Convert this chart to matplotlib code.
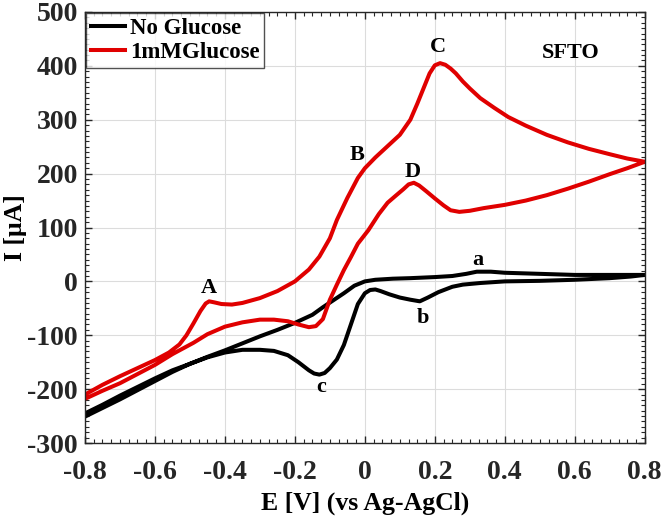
import matplotlib
matplotlib.use("Agg")
import matplotlib.pyplot as plt
from matplotlib.ticker import MultipleLocator

# No glucose, anodic sweep (-0.8 -> 0.8 V)
e_blank_fwd = [-0.80, -0.75, -0.70, -0.65, -0.60, -0.55, -0.50, -0.45, -0.40, -0.35,
               -0.30, -0.25, -0.20, -0.15, -0.12, -0.09, -0.06, -0.03, 0.00, 0.03,
               0.08, 0.13, 0.20, 0.25, 0.29, 0.32, 0.36, 0.40, 0.45, 0.50,
               0.60, 0.70, 0.76, 0.80]
i_blank_fwd = [-251, -235, -219, -202, -185, -168, -153, -140, -128, -115,
               -102, -90, -77, -62, -48, -35, -22, -8, 0, 3,
               5, 6, 8, 10, 14, 18, 18, 16, 15, 14,
               12, 12, 12, 12]

# No glucose, cathodic sweep (0.8 -> -0.8 V)
e_blank_rev = [0.80, 0.76, 0.70, 0.60, 0.50, 0.40, 0.33, 0.28, 0.25, 0.21,
               0.18, 0.157, 0.13, 0.10, 0.07, 0.045, 0.03, 0.015, 0.00, -0.02,
               -0.04, -0.06, -0.08, -0.10, -0.115, -0.13, -0.145, -0.16, -0.19, -0.22,
               -0.26, -0.30, -0.35, -0.40, -0.45, -0.50, -0.55, -0.60, -0.65, -0.70,
               -0.75, -0.80]
i_blank_rev = [12, 9, 6, 3, 1, 0, -3, -6, -10, -20,
               -30, -37, -34, -30, -24, -18, -15, -16, -22, -42,
               -80, -118, -145, -161, -170, -173, -171, -165, -150, -137,
               -129, -127, -127, -132, -141, -153, -165, -180, -196, -212,
               -229, -245]

# 1 mM glucose, anodic sweep
e_glu_fwd = [-0.80, -0.75, -0.70, -0.65, -0.60, -0.56, -0.53, -0.51, -0.49, -0.47,
             -0.455, -0.445, -0.43, -0.41, -0.38, -0.35, -0.30, -0.25, -0.20, -0.16,
             -0.13, -0.10, -0.08, -0.05, -0.02, 0.00, 0.03, 0.06, 0.10, 0.13,
             0.15, 0.17, 0.185, 0.20, 0.215, 0.23, 0.245, 0.26, 0.28, 0.30,
             0.33, 0.37, 0.41, 0.46, 0.52, 0.58, 0.64, 0.70, 0.75, 0.80]
i_glu_fwd = [-210, -192, -176, -161, -146, -132, -117, -100, -78, -55,
             -41, -37, -39, -42, -43, -40, -31, -18, 0, 22,
             46, 80, 114, 155, 192, 210, 230, 248, 272, 300,
             330, 362, 386, 401, 405, 402, 395, 386, 371, 358,
             340, 322, 305, 289, 272, 258, 246, 236, 228, 222]

# 1 mM glucose, cathodic sweep
e_glu_rev = [0.80, 0.75, 0.70, 0.64, 0.58, 0.52, 0.46, 0.40, 0.34, 0.30,
             0.27, 0.245, 0.225, 0.20, 0.176, 0.155, 0.14, 0.125, 0.11, 0.09,
             0.065, 0.04, 0.01, -0.02, -0.04, -0.06, -0.08, -0.10, -0.12, -0.14,
             -0.16, -0.19, -0.22, -0.26, -0.30, -0.35, -0.40, -0.45, -0.49, -0.55,
             -0.60, -0.65, -0.70, -0.75, -0.80]
i_glu_rev = [222, 210, 199, 185, 172, 160, 150, 142, 136, 131,
             129, 132, 141, 154, 167, 178, 183, 180, 171, 160,
             146, 125, 95, 70, 45, 21, -6, -34, -70, -83,
             -85, -80, -74, -71, -71, -76, -84, -98, -114, -135,
             -155, -172, -189, -203, -218]

# peak labels (text, E, I)
peak_names = ["A", "B", "C", "D", "a", "b", "c"]
peak_e = [-0.446, -0.023, 0.209, 0.137, 0.323, 0.166, -0.126]
peak_i = [-12, 235, 435, 203, 40, -68, -196]


def main():
    plt.rcParams["font.family"] = ["Liberation Serif", "DejaVu Serif"]
    plt.rcParams["font.weight"] = "bold"
    plt.rcParams["axes.unicode_minus"] = False

    fig = plt.figure(figsize=(6.64, 5.2), dpi=100)
    ax = fig.add_axes([0.128, 0.148, 0.843, 0.829])

    lw = 2.9
    ax.plot(e_blank_fwd + e_blank_rev, i_blank_fwd + i_blank_rev,
            color="black", lw=lw, label="No Glucose", solid_joinstyle="round")
    ax.plot(e_glu_fwd + e_glu_rev, i_glu_fwd + i_glu_rev,
            color="#e00000", lw=lw, label="1mMGlucose", solid_joinstyle="round")

    for name, e, i in zip(peak_names, peak_e, peak_i):
        ax.text(e, i, name, ha="center", va="center", fontsize=16,
                fontweight="bold")
    ax.text(0.589, 424, "SFTO", ha="center", va="center", fontsize=16,
            fontweight="bold")

    ax.set_xlim(-0.8, 0.8)
    ax.set_ylim(-300, 500)
    xt = [-0.8, -0.6, -0.4, -0.2, 0, 0.2, 0.4, 0.6, 0.8]
    ax.set_xticks(xt)
    ax.set_xticklabels(["0" if v == 0 else f"{v:g}" for v in xt])
    ax.xaxis.set_minor_locator(MultipleLocator(0.025))
    ax.yaxis.set_major_locator(MultipleLocator(100))
    ax.yaxis.set_minor_locator(MultipleLocator(10))

    ax.grid(True, which="major", color="#dcdcdc", lw=0.8)
    ax.set_axisbelow(True)
    ax.tick_params(which="both", direction="in", top=True, right=True,
                   labelsize=20, colors="#262626")
    ax.tick_params(which="major", length=5, width=1)
    ax.tick_params(which="minor", length=3, width=0.8)
    ax.tick_params(axis="x", which="major", pad=12)
    ax.tick_params(axis="y", which="major", pad=5)
    for lab in ax.get_xticklabels() + ax.get_yticklabels():
        lab.set_fontweight("bold")
    for sp in ax.spines.values():
        sp.set_color("#262626")
        sp.set_linewidth(1.0)

    ax.set_xlabel("E [V] (vs Ag-AgCl)", fontsize=18.5, fontweight="bold",
                  labelpad=5)
    ax.set_ylabel("I [μA]", fontsize=18.5, fontweight="bold", labelpad=0)

    leg = ax.legend(loc="upper left", frameon=True, fancybox=False,
                    edgecolor="#262626", borderaxespad=0.05, handlelength=1.5,
                    handletextpad=0.2, borderpad=0.2, labelspacing=0.15,
                    prop={"weight": "bold", "size": 16.5})
    leg.get_frame().set_linewidth(1.0)

    fig.savefig("out.png", dpi=100)


if __name__ == "__main__":
    main()
